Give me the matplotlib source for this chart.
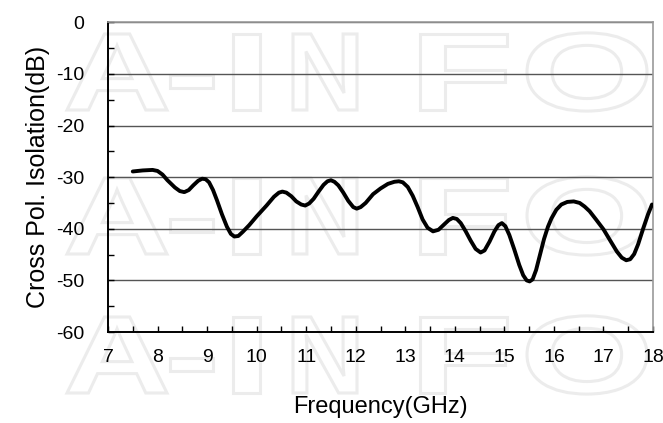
import matplotlib
matplotlib.use("Agg")
import matplotlib.pyplot as plt
from matplotlib.textpath import TextPath
from matplotlib.patches import PathPatch
from matplotlib.font_manager import FontProperties
from matplotlib.transforms import Affine2D, IdentityTransform
import numpy as np

# Cross-pol isolation
freq_ghz = [7.5, 7.7, 7.9, 8.0, 8.1, 8.2, 8.35, 8.45, 8.54, 8.63, 8.72, 8.82,
            8.9, 8.97, 9.04, 9.12, 9.2, 9.3, 9.4, 9.48, 9.55, 9.63, 9.72, 9.85,
            10.0, 10.2, 10.35, 10.45, 10.52, 10.6, 10.7, 10.8, 10.9, 10.98,
            11.06, 11.15, 11.25, 11.35, 11.43, 11.5, 11.57, 11.65, 11.75, 11.85,
            11.95, 12.02, 12.1, 12.2, 12.35, 12.5, 12.65, 12.78, 12.87, 12.95,
            13.05, 13.15, 13.25, 13.35, 13.45, 13.56, 13.67, 13.78, 13.88,
            13.96, 14.04, 14.12, 14.22, 14.32, 14.42, 14.52, 14.6, 14.7, 14.8,
            14.88, 14.95, 15.02, 15.1, 15.2, 15.3, 15.38, 15.45, 15.51, 15.57,
            15.64, 15.72, 15.8, 15.88, 15.95, 16.05, 16.15, 16.27, 16.4, 16.52,
            16.62, 16.72, 16.85, 17.0, 17.15, 17.27, 17.37, 17.46, 17.54, 17.62,
            17.7, 17.8, 17.9, 17.98]
isolation_db = [-28.9, -28.7, -28.6, -28.8, -29.5, -30.6, -32.0, -32.7, -32.9,
                -32.5, -31.6, -30.7, -30.3, -30.4, -31.0, -32.5, -34.5, -37.2,
                -39.6, -41.0, -41.5, -41.4, -40.6, -39.3, -37.6, -35.5, -33.8,
                -33.0, -32.8, -33.0, -33.7, -34.7, -35.3, -35.5, -35.1, -34.2,
                -32.8, -31.5, -30.8, -30.6, -30.9, -31.6, -33.0, -34.6, -35.8,
                -36.1, -35.8, -35.0, -33.3, -32.2, -31.3, -30.9, -30.8, -31.0,
                -31.9, -33.6, -35.8, -38.2, -39.8, -40.5, -40.2, -39.2, -38.3,
                -37.9, -38.1, -38.9, -40.5, -42.3, -43.9, -44.6, -44.2, -42.5,
                -40.5, -39.3, -38.9, -39.5, -41.2, -44.0, -47.0, -49.0, -50.0,
                -50.2, -49.8, -48.0, -45.0, -42.0, -39.6, -38.0, -36.3, -35.3,
                -34.8, -34.7, -35.0, -35.7, -36.6, -38.2, -40.1, -42.5, -44.4,
                -45.6, -46.1, -45.9, -44.9, -43.0, -40.0, -37.2, -35.3]

x_ticks = list(range(7, 19))
y_ticks = list(range(-60, 1, 10))

# watermark letters: (letter, left px, right px), rows given as baseline px from top
wm_letters = [("A", 67, 167), ("-", 170, 213), ("I", 233, 260),
              ("N", 293, 357), ("F", 420, 507), ("O", 527, 647)]
wm_baselines = [110, 254, 393]
wm_cap = 76

plt.rcParams['font.family'] = ['Liberation Sans', 'DejaVu Sans']

W, H = 663, 423
fig = plt.figure(figsize=(W / 100, H / 100), dpi=100)

fp = FontProperties(family="Liberation Sans", weight="bold")
cap_unit = TextPath((0, 0), "I", size=1, prop=fp).get_extents().height
for base in wm_baselines:
    for letter, x0, x1 in wm_letters:
        tp = TextPath((0, 0), letter, size=1, prop=fp)
        bb = tp.get_extents()
        sx = (x1 - x0) / bb.width
        sy = wm_cap / cap_unit
        tr = Affine2D().translate(-bb.x0, 0).scale(sx, sy).translate(x0, H - base)
        patch = PathPatch(tr.transform_path(tp), facecolor="none",
                          edgecolor="#ececec", linewidth=2.2,
                          transform=IdentityTransform(), zorder=-1)
        fig.add_artist(patch)

ax = fig.add_axes([108 / W, (H - 332) / H, 545 / W, 309.7 / H])
ax.set_zorder(1)
ax.patch.set_alpha(0)

ax.plot(freq_ghz, isolation_db, color="black", linewidth=2.8,
        solid_joinstyle="round", solid_capstyle="round", zorder=3)

ax.set_xlim(7, 18)
ax.set_ylim(-60, 0)
ax.set_xticks(x_ticks)
ax.set_yticks(y_ticks)
ax.set_xticklabels([str(v) for v in x_ticks])
ax.set_yticklabels([str(v) for v in y_ticks])
ax.set_xticks(np.arange(7, 18.01, 0.5), minor=True)
ax.set_yticks(np.arange(-60, 0.01, 5), minor=True)

ax.tick_params(which="both", direction="in", length=4, width=1, color="black")
ax.tick_params(axis="x", which="major", labelsize=14, pad=12)
ax.tick_params(axis="y", which="major", labelsize=14, pad=17)
ax.tick_params(which="both", right=False, top=False)

ax.grid(axis="y", which="major", color="#555555", linewidth=1)
for s in ["top", "right"]:
    ax.spines[s].set_color("#999999")
    ax.spines[s].set_linewidth(1.2)
for s in ["left", "bottom"]:
    ax.spines[s].set_color("black")
    ax.spines[s].set_linewidth(1.4)

ax.set_xlabel("Frequency(GHz)", fontsize=17, labelpad=22)
ax.set_ylabel("Cross Pol. Isolation(dB)", fontsize=18, labelpad=4)

fig.savefig("out.png", dpi=100)
